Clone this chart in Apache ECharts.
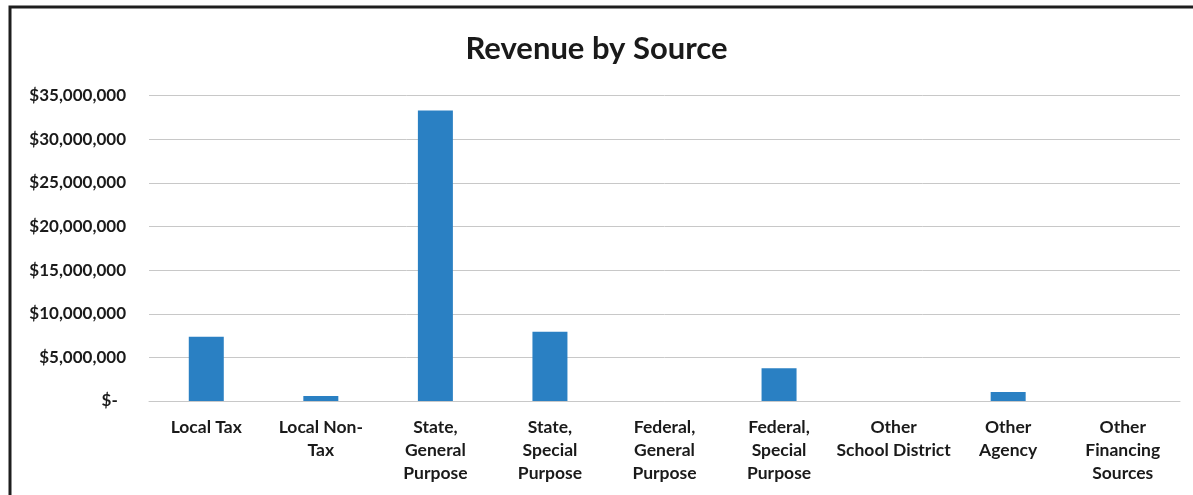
<!DOCTYPE html>
<html>
<head>
<meta charset="utf-8">
<script src="https://cdn.jsdelivr.net/npm/echarts@6/dist/echarts.min.js"></script>
<style>
html,body{margin:0;padding:0;background:#fff;}
#chart{width:1193px;height:495px;}
</style>
</head>
<body>
<div id="chart"></div>
<script>
const categories = [
  "Local Tax",
  "Local Non-\nTax",
  "State,\nGeneral\nPurpose",
  "State,\nSpecial\nPurpose",
  "Federal,\nGeneral\nPurpose",
  "Federal,\nSpecial\nPurpose",
  "Other\nSchool District",
  "Other\nAgency",
  "Other\nFinancing\nSources"
];
const revenue = [7370000, 570000, 33300000, 7950000, 0, 3750000, 0, 1030000, 0];
const yTicks = { min: 0, max: 35000000, interval: 5000000 };

const FONT = 'Lato';
const chart = echarts.init(document.getElementById('chart'), null, {renderer: 'canvas'});
chart.setOption({
  animation: false,
  backgroundColor: '#ffffff',
  graphic: [{
    type: 'rect',
    shape: {x: 10, y: 7, width: 1300, height: 600},
    style: {fill: 'none', stroke: '#1e1e1e', lineWidth: 3},
    silent: true
  }],
  title: {
    text: 'Revenue by Source',
    left: 'center',
    top: 28,
    textStyle: {fontFamily: FONT, fontWeight: 'bold', fontSize: 31, color: '#1a1a1a'}
  },
  grid: {left: 149, right: 13, top: 95.7, bottom: 94, containLabel: false},
  xAxis: {
    type: 'category',
    data: categories,
    axisTick: {show: false},
    axisLine: {lineStyle: {color: '#c8c8c8', width: 1}},
    axisLabel: {
      interval: 0,
      margin: 15,
      fontFamily: FONT,
      fontWeight: 'bold',
      fontSize: 17.5,
      lineHeight: 23,
      color: '#1a1a1a',
      align: 'center'
    }
  },
  yAxis: {
    type: 'value',
    min: yTicks.min,
    max: yTicks.max,
    interval: yTicks.interval,
    axisLine: {show: false},
    axisTick: {show: false},
    splitLine: {lineStyle: {color: '#c8c8c8', width: 1}},
    axisLabel: {
      margin: 23,
      fontFamily: FONT,
      fontWeight: 'bold',
      fontSize: 17,
      color: '#1a1a1a',
      formatter: function (v) {
        if (v === 0) return '$-  ';
        return '$' + v.toLocaleString('en-US');
      }
    }
  },
  series: [{
    type: 'bar',
    data: revenue,
    barWidth: 35,
    itemStyle: {color: '#2a80c3'}
  }]
});
</script>
</body>
</html>
